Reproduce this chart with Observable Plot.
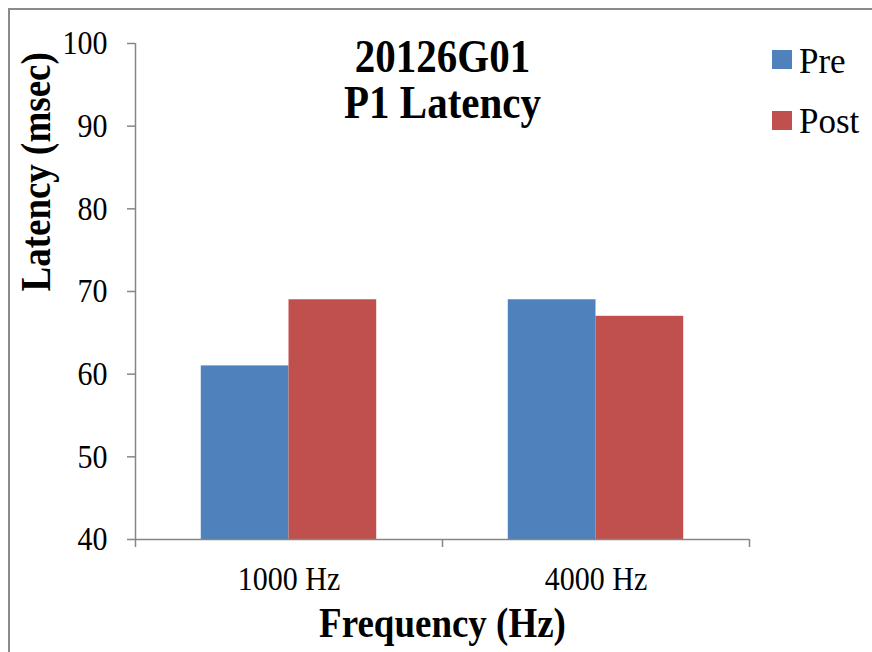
<!DOCTYPE html>
<html>
<head>
<meta charset="utf-8">
<script src="https://cdn.jsdelivr.net/npm/d3@7"></script>
<script src="https://cdn.jsdelivr.net/npm/@observablehq/plot@0.6"></script>
<style>
  html, body { margin: 0; padding: 0; width: 872px; height: 652px; overflow: hidden; background: #fff; }
  #frame { position: absolute; left: 8px; top: 8px; width: 900px; height: 700px; border-left: 2px solid #8a8a8a; border-top: 2px solid #8a8a8a; box-sizing: border-box; }
  #chart { position: absolute; left: 0; top: 0; }
  #legend { position: absolute; left: 772px; top: 0; font-family: "Liberation Serif", "Times New Roman", serif; font-size: 35px; line-height: 35px; color: #000; }
  .sw { position: absolute; left: 0; width: 20px; height: 19px; }
  .lt { position: absolute; left: 27px; white-space: nowrap; }
</style>
</head>
<body>
<div id="frame"></div>
<div id="chart"></div>
<div id="legend"></div>
<script>
const categories = ["1000 Hz", "4000 Hz"];
const series = ["Pre", "Post"];
const preValues = [61, 69];
const postValues = [69, 67];
const colors = ["#4F81BD", "#C0504D"];
const yDomain = [40, 100];
const yTicks = [40, 50, 60, 70, 80, 90, 100];
const titleLines = ["20126G01", "P1 Latency"];
const xTitle = "Frequency (Hz)";
const yTitle = "Latency (msec)";
const gapWidth = 1.5; // Excel-style gap width, in bar widths

const seriesValues = [preValues, postValues];
const data = [];
categories.forEach((c, ci) => {
  series.forEach((s, si) => {
    const unit = 1 / (series.length + gapWidth);
    data.push({
      category: c,
      series: s,
      value: seriesValues[si][ci],
      x1: ci + (gapWidth / 2 + si) * unit,
      x2: ci + (gapWidth / 2 + si + 1) * unit
    });
  });
});

const gray = "#868686";
const font = "'Liberation Serif', 'Times New Roman', serif";

const chart = Plot.plot({
  width: 872,
  height: 652,
  marginLeft: 135,
  marginRight: 123,
  marginTop: 43,
  marginBottom: 113,
  style: { fontFamily: font, background: "transparent", overflow: "visible" },
  x: { type: "linear", domain: [0, categories.length], axis: null },
  y: { domain: yDomain, axis: null },
  color: { domain: series, range: colors },
  marks: [
    Plot.rect(data, {
      x1: "x1", x2: "x2", y1: yDomain[0], y2: "value",
      fill: "series"
    }),
    Plot.ruleX([0], { stroke: gray, strokeWidth: 1.5 }),
    Plot.ruleY([yDomain[0]], { stroke: gray, strokeWidth: 1.5 }),
    Plot.axisY({ ticks: yTicks, tickSize: 8, tickFormat: () => "", stroke: gray, strokeWidth: 1.5, label: null }),
    Plot.axisY({ ticks: yTicks, tickSize: 0, tickPadding: 28, fontSize: 30, fontFamily: font, fill: "black", label: null }),
    Plot.axisX({ ticks: d3.range(0, categories.length + 1), tickSize: 8, tickFormat: () => "", stroke: gray, strokeWidth: 1.5, label: null }),
    Plot.axisX({ ticks: categories.map((_, i) => i + 0.5), tickSize: 0, tickPadding: 27, fontSize: 30, fontFamily: font, fill: "black",
      tickFormat: (v) => categories[Math.floor(v)], label: null }),
    Plot.text([titleLines[0]], {
      frameAnchor: "top", lineAnchor: "top", dy: -4.5, fontSize: 41, fontFamily: font, fontWeight: "bold", fill: "black"
    }),
    Plot.text([titleLines[1]], {
      frameAnchor: "top", lineAnchor: "top", dy: 41.5, fontSize: 41, fontFamily: font, fontWeight: "bold", fill: "black"
    }),
    Plot.text([xTitle], {
      frameAnchor: "bottom", lineAnchor: "middle", dy: 84, fontSize: 37, fontFamily: font, fontWeight: "bold", fill: "black"
    }),
    Plot.text([yTitle], {
      frameAnchor: "left", lineAnchor: "middle", dx: -99, rotate: -90, fontSize: 37, fontFamily: font, fontWeight: "bold", fill: "black"
    })
  ]
});

// Reference text is drawn slightly taller than regular Times: stretch glyph height.
d3.select(chart).selectAll("text").each(function () {
  const t = this.getAttribute("transform") || "";
  this.setAttribute("transform", t + " scale(1,1.12)");
});
document.getElementById("chart").appendChild(chart);

const legend = document.getElementById("legend");
series.forEach((s, i) => {
  const sw = document.createElement("div");
  sw.className = "sw";
  sw.style.top = (50 + i * 60.5) + "px";
  sw.style.background = colors[i];
  const t = document.createElement("div");
  t.className = "lt";
  t.style.top = (43.5 + i * 60) + "px";
  t.textContent = s;
  legend.appendChild(sw);
  legend.appendChild(t);
});
</script>
</body>
</html>
